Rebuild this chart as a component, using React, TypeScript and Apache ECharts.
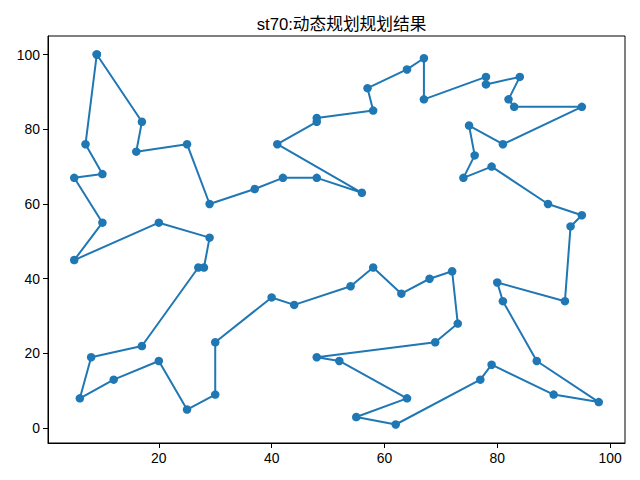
import React, { useEffect, useRef } from "react";
import * as echarts from "echarts";

// st70 tour, in visiting order
const tourX: number[] = [
  9, 17, 16, 25, 29, 37, 42, 48, 56, 41, 48, 48, 58, 57, 64, 67, 67, 78, 78, 84,
  82, 83, 95, 81, 75, 76, 74, 79, 89, 95, 93, 92, 80, 81, 87, 98, 90, 79, 77, 62,
  55, 64, 52, 48, 69, 73, 72, 68, 63, 58, 54, 44, 40, 30, 30, 25, 20, 12, 6, 8,
  17, 27, 28, 29, 20, 5, 10, 5, 10, 7,
];
const tourY: number[] = [
  100, 82, 74, 76, 60, 64, 67, 67, 63, 76, 82, 83, 85, 91, 96, 99, 88, 94, 92, 94,
  88, 86, 86, 76, 81, 73, 67, 70, 60, 57, 54, 34, 39, 34, 18, 7, 9, 17, 13, 1,
  3, 8, 18, 19, 23, 28, 42, 40, 36, 43, 38, 33, 35, 23, 9, 5, 18, 13, 8, 19,
  22, 43, 43, 51, 55, 45, 55, 67, 68, 76,
];
const xTicks: number[] = [20, 40, 60, 80, 100];
const yTicks: number[] = [0, 20, 40, 60, 80, 100];
const titleText = "st70:动态规划规划结果";

export default function App() {
  const ref = useRef<HTMLDivElement>(null);
  useEffect(() => {
    if (!ref.current) return;
    const chart = echarts.init(ref.current, undefined, { renderer: "svg" });
    const pts = tourX.map((x, i) => [x, tourY[i]]);
    pts.push([tourX[0], tourY[0]]);
    const xmin = Math.min(...tourX), xmax = Math.max(...tourX);
    const ymin = Math.min(...tourY), ymax = Math.max(...tourY);
    const xm = (xmax - xmin) * 0.05, ym = (ymax - ymin) * 0.05;
    const font = "'Liberation Sans', Arial, 'Noto Sans CJK SC', sans-serif";
    chart.setOption({
      animation: false,
      backgroundColor: "#ffffff",
      title: {
        text: titleText,
        left: 336.5,
        top: 11,
        textAlign: "center",
        textStyle: { fontFamily: font, fontSize: 16.7, fontWeight: "normal", color: "#000" },
      },
      grid: {
        left: 48, right: 15, top: 36, bottom: 37,
        show: true, borderColor: "#000", borderWidth: 1, containLabel: false,
      },
      xAxis: {
        type: "value",
        min: xmin - xm,
        max: xmax + xm,
        splitLine: { show: false },
        axisLine: { show: true, onZero: false, lineStyle: { color: "#000", width: 1 } },
        axisTick: { show: true, inside: false, length: 5, customValues: xTicks, lineStyle: { color: "#000" } },
        axisLabel: { show: true, margin: 8, customValues: xTicks, color: "#000", fontSize: 13.9, fontFamily: font },
      },
      yAxis: {
        type: "value",
        min: ymin - ym,
        max: ymax + ym,
        splitLine: { show: false },
        axisLine: { show: true, onZero: false, lineStyle: { color: "#000", width: 1 } },
        axisTick: { show: true, inside: false, length: 5, customValues: yTicks, lineStyle: { color: "#000" } },
        axisLabel: { show: true, margin: 8, customValues: yTicks, color: "#000", fontSize: 13.9, fontFamily: font },
      },
      series: [
        {
          type: "line",
          data: pts,
          symbol: "circle",
          symbolSize: 8.5,
          showAllSymbol: true,
          lineStyle: { color: "#1f77b4", width: 2 },
          itemStyle: { color: "#1f77b4" },
          emphasis: { disabled: true },
        },
      ],
    });
    return () => chart.dispose();
  }, []);
  return (
    <div
      ref={ref}
      style={{ position: "absolute", left: 0, top: 0, width: 640, height: 480 }}
    />
  );
}
